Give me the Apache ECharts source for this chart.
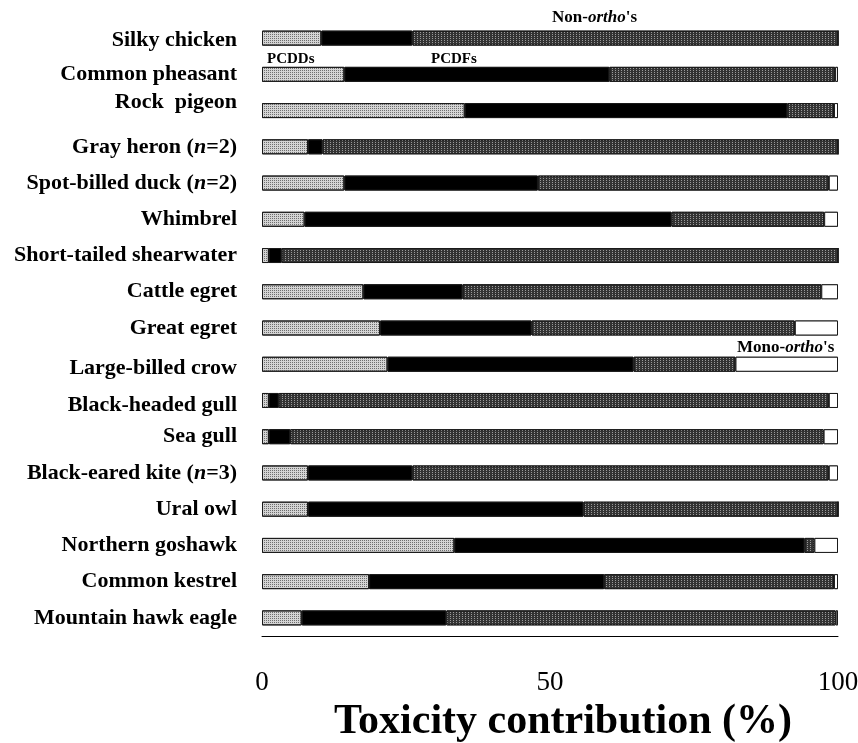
<!DOCTYPE html>
<html>
<head>
<meta charset="utf-8">
<script src="https://cdn.jsdelivr.net/npm/echarts@6/dist/echarts.min.js"></script>
<style>
  html, body { margin: 0; padding: 0; background: #fff; }
  #chart { width: 858px; height: 743px; }
</style>
</head>
<body>
<div id="chart"></div>
<script>
// Species, top to bottom
const species = [
  'Silky chicken', 'Common pheasant', 'Rock  pigeon', 'Gray heron (n=2)',
  'Spot-billed duck (n=2)', 'Whimbrel', 'Short-tailed shearwater', 'Cattle egret',
  'Great egret', 'Large-billed crow', 'Black-headed gull', 'Sea gull',
  'Black-eared kite (n=3)', 'Ural owl', 'Northern goshawk', 'Common kestrel',
  'Mountain hawk eagle'
];

// Share of TEQ (%) by compound group
const pcdds     = [10.3, 14.3, 35.2,  8.0, 14.3,  7.4, 1.2, 17.6, 20.5, 21.8, 1.2, 1.2,  8.0,  8.0, 33.4, 18.6,  6.9];
const pcdfs     = [15.8, 46.0, 56.0,  2.5, 33.6, 63.7, 2.2, 17.2, 26.3, 42.7, 1.7, 3.7, 18.1, 47.8, 60.8, 40.8, 25.1];
const nonOrtho  = [73.9, 39.2,  8.1, 89.5, 50.5, 26.5, 96.6, 62.3, 45.7, 17.7, 95.5, 92.6, 72.3, 44.2,  1.7, 39.9, 67.6];
const monoOrtho = [ 0.0,  0.5,  0.7,  0.0,  1.6,  2.4, 0.0,  2.9,  7.5, 17.8, 1.6, 2.5,  1.6,  0.0,  4.1,  0.7,  0.4];

const xTicks = [0, 50, 100];

// small vertical nudges for a few category labels (px, + = down)
const labelNudge = { 0: 2, 2: -8, 9: 4, 10: 5 };

const serif = '"Liberation Serif", "Times New Roman", serif';

const categoryData = species.map((name, i) => {
  const d = labelNudge[i] || 0;
  if (!d) return name;
  return {
    value: name,
    textStyle: { padding: d > 0 ? [2 * d, 0, 0, 0] : [0, 0, -2 * d, 0] }
  };
});

const outline = { borderColor: '#1a1a1a', borderWidth: 1 };

function stackSeries(name, values, color, decal) {
  return {
    name: name,
    type: 'bar',
    stack: 'teq',
    barWidth: 15,
    data: values,
    itemStyle: Object.assign({ color: color, decal: decal }, outline),
    emphasis: { disabled: true },
    animation: false
  };
}

const lightDots = {
  symbol: 'rect', symbolSize: 1, color: '#6e6e6e',
  dashArrayX: [1, 1], dashArrayY: [1, 1], rotation: 0
};
const darkDots = {
  symbol: 'rect', symbolSize: 1, color: '#9a9a9a',
  dashArrayX: [1, 2], dashArrayY: [1, 1], rotation: 0
};
const plain = (c) => ({ symbol: 'rect', symbolSize: 1, color: c, dashArrayX: [1, 0], dashArrayY: [1, 0] });

const chart = echarts.init(document.getElementById('chart'), null, { renderer: 'canvas' });

const italicRich = (size) => ({
  i: { fontFamily: serif, fontWeight: 'bold', fontStyle: 'italic', fontSize: size, fill: '#000', color: '#000' }
});

chart.setOption({
  backgroundColor: '#ffffff',
  animation: false,
  aria: { enabled: true, decal: { show: true } },
  grid: { left: 262, right: 20, top: 20, bottom: 107, containLabel: false, outerBoundsMode: 'none' },
  xAxis: {
    type: 'value',
    min: xTicks[0],
    max: xTicks[xTicks.length - 1],
    interval: xTicks[1] - xTicks[0],
    axisLine: { show: true, onZero: false, lineStyle: { color: '#000', width: 1 } },
    axisTick: { show: false },
    splitLine: { show: false },
    axisLabel: {
      margin: 33,
      fontFamily: serif,
      fontSize: 27,
      color: '#000'
    },
    name: 'Toxicity contribution (%)',
    nameLocation: 'middle',
    nameGap: 64,
    nameTextStyle: {
      fontFamily: serif, fontWeight: 'bold', fontSize: 42, color: '#000',
      padding: [0, 0, 0, 26]
    }
  },
  yAxis: {
    type: 'category',
    inverse: true,
    data: categoryData,
    axisLine: { show: false },
    axisTick: { show: false },
    axisLabel: {
      margin: 25,
      fontFamily: serif,
      fontWeight: 'bold',
      fontSize: 22,
      color: '#000',
      formatter: (v) => v.replace(/\(n=/, '({i|n}='),
      rich: italicRich(22)
    }
  },
  series: [
    stackSeries('PCDDs', pcdds, '#d4d4d4', lightDots),
    stackSeries('PCDFs', pcdfs, '#000000', plain('#000000')),
    stackSeries("Non-ortho's", nonOrtho, '#333333', darkDots),
    stackSeries("Mono-ortho's", monoOrtho, '#ffffff', plain('#ffffff'))
  ],
  graphic: [
    {
      type: 'text', left: 552, top: 9,
      style: {
        text: "Non-{i|ortho}'s",
        font: 'bold 17px ' + serif, fill: '#000',
        rich: italicRich(17)
      }
    },
    {
      type: 'text', left: 267, top: 52,
      style: { text: 'PCDDs', font: 'bold 15px ' + serif, fill: '#000' }
    },
    {
      type: 'text', left: 431, top: 52,
      style: { text: 'PCDFs', font: 'bold 15px ' + serif, fill: '#000' }
    },
    {
      type: 'text', left: 737, top: 339,
      style: {
        text: "Mono-{i|ortho}'s",
        font: 'bold 17px ' + serif, fill: '#000',
        rich: italicRich(17)
      }
    }
  ]
});
</script>
</body>
</html>
